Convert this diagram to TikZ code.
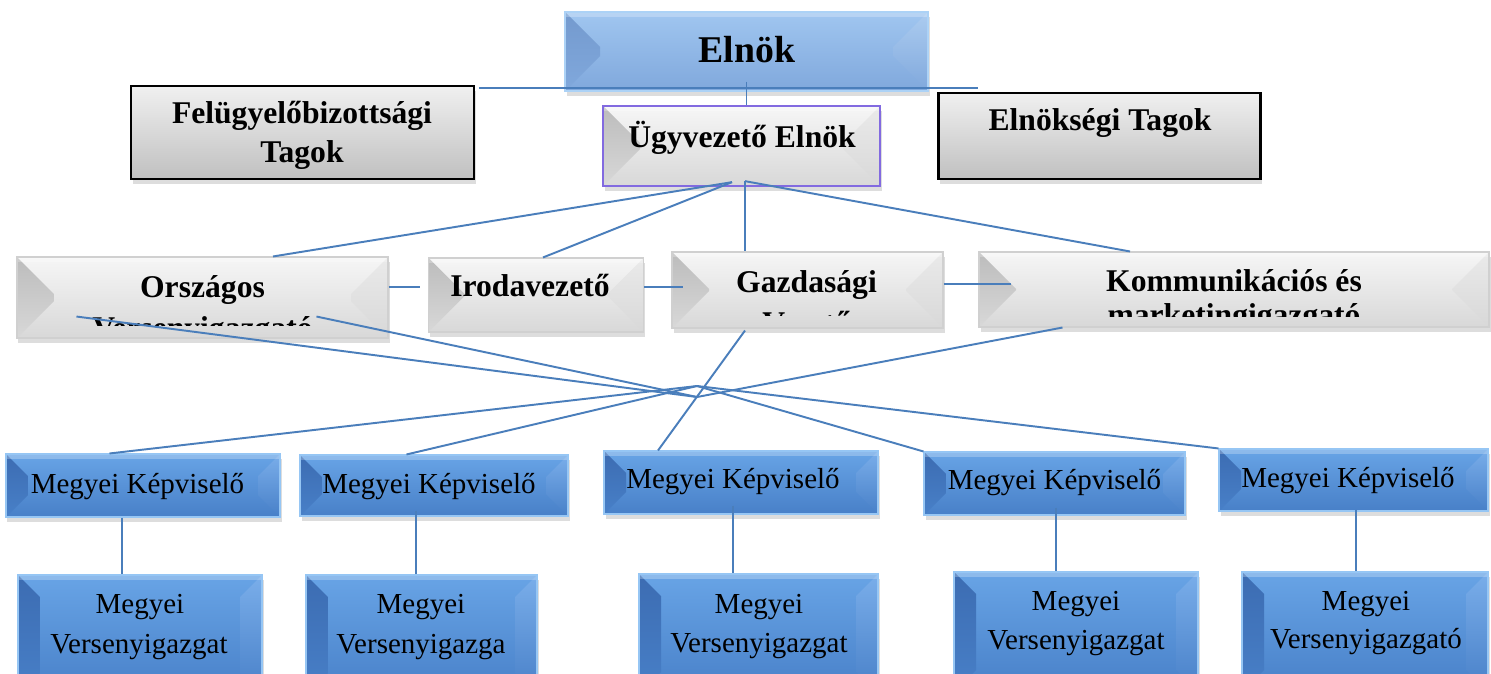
\documentclass[tikz,border=0pt]{standalone}
\usepackage{fontspec}
\setmainfont{Liberation Serif}
\usepackage{tikz}
\usetikzlibrary{calc,shadows}
\definecolor{linkblue}{RGB}{74,126,187}
\definecolor{kbtop}{RGB}{104,164,230}
\definecolor{kbbot}{RGB}{72,128,200}
\definecolor{kbleft}{RGB}{60,108,178}
\definecolor{kbright}{RGB}{122,174,234}
\definecolor{kbedge}{RGB}{150,198,244}
\definecolor{eltop}{RGB}{160,198,240}
\definecolor{elbot}{RGB}{128,168,220}
\definecolor{elleft}{RGB}{116,154,206}
\definecolor{elright}{RGB}{172,204,240}
\definecolor{eledge}{RGB}{172,210,246}
\definecolor{gytop}{RGB}{246,246,246}
\definecolor{gybot}{RGB}{216,216,216}
\definecolor{gyleft}{RGB}{188,188,188}
\definecolor{gyright}{RGB}{234,234,234}
\definecolor{gyedge}{RGB}{208,208,208}
\definecolor{hdtop}{RGB}{240,240,240}
\definecolor{hdbot}{RGB}{192,192,192}
\definecolor{ugyedge}{RGB}{130,106,224}

\tikzset{
  link/.style={draw=linkblue, line width=1.1pt},
  boxsize/.style 2 args={minimum width=#1*0.02cm, minimum height=#2*0.02cm},
  softshadow/.style={drop shadow={shadow xshift=0.03cm, shadow yshift=-0.09cm, opacity=0.22, fill=black!60}},
  bevelbox/.style n args={5}{rectangle, inner sep=0pt, top color=#1, bottom color=#2, softshadow,
    path picture={
      \shade[top color=#3, bottom color=#2] (path picture bounding box.north west)
        -- ([xshift=#5, yshift=-#5]path picture bounding box.north west)
        -- ([xshift=#5, yshift=#5]path picture bounding box.south west)
        -- (path picture bounding box.south west) -- cycle;
      \shade[top color=#4, bottom color=#2] (path picture bounding box.north east)
        -- ([xshift=-#5, yshift=-#5]path picture bounding box.north east)
        -- ([xshift=-#5, yshift=#5]path picture bounding box.south east)
        -- (path picture bounding box.south east) -- cycle;
      \fill[white, fill opacity=0.25] (path picture bounding box.north west) rectangle ([yshift=-0.1cm]path picture bounding box.north east);
    }},
  bluebox/.style={bevelbox={kbtop}{kbbot}{kbleft}{kbright}{0.44cm}, draw=kbedge, line width=0.6pt},
  elbox/.style={bevelbox={eltop}{elbot}{elleft}{elright}{0.7cm}, draw=eledge, line width=0.6pt},
  graybox/.style={bevelbox={gytop}{gybot}{gyleft}{gyright}{0.74cm}, draw=gyedge, line width=0.6pt},
  ugybox/.style={graybox, draw=ugyedge, line width=1.3pt},
  headbox/.style={rectangle, inner sep=0pt, top color=hdtop, bottom color=hdbot, draw=black, line width=1.3pt, softshadow},
  eltext/.style={font=\fontsize{21.5}{26}\selectfont\bfseries, anchor=base, inner sep=0pt},
  hdtext/.style={font=\fontsize{18}{22}\selectfont\bfseries, anchor=base, inner sep=0pt},
  kptext/.style={font=\fontsize{16.5}{20}\selectfont, anchor=base, inner sep=0pt}
}

\begin{document}
\begin{tikzpicture}[x=0.02cm, y=-0.02cm]
  \fill[white] (0,0) rectangle (1491,673);
  \clip (0,0) rectangle (1491,673);

  % top level
  \node[elbox, boxsize={363}{79}] (elnok) at (746.5,51.5) {};
  \node[headbox, boxsize={343}{93}] (felugy) at (302.5,132.5) {};
  \node[ugybox, boxsize={277}{80}] (ugyv) at (741.5,146) {};
  \node[headbox, boxsize={322}{86}] (elnoks) at (1099.5,136) {};

  % second row
  \node[graybox, boxsize={371}{81}] (ors) at (202.5,297.5) {};
  \node[graybox, boxsize={215}{74}] (iroda) at (536,295) {};
  \node[graybox, boxsize={271}{76}] (gazd) at (807.5,290) {};
  \node[graybox, boxsize={510}{75}] (komm) at (1234,289.5) {};

  % county representatives
  \node[bluebox, boxsize={274}{63}] (m1) at (143,485.5) {};
  \node[bluebox, boxsize={268}{61}] (m2) at (434,485.5) {};
  \node[bluebox, boxsize={274}{63}] (m3) at (741,482.5) {};
  \node[bluebox, boxsize={261}{63}] (m4) at (1054.5,483.5) {};
  \node[bluebox, boxsize={269}{62}] (m5) at (1353.5,480) {};

  % county directors
  \node[bluebox, boxsize={244}{120}] (v1) at (140,635) {};
  \node[bluebox, boxsize={231}{120}] (v2) at (421.5,635) {};
  \node[bluebox, boxsize={239}{120}] (v3) at (758.5,634) {};
  \node[bluebox, boxsize={244}{120}] (v4) at (1076,632) {};
  \node[bluebox, boxsize={246}{120}] (v5) at (1365,632) {};

  % labels
  \node[eltext] (elnok-t) at (747,62) {Elnök};
  \node[hdtext] (felugy-t1) at (302,123) {Felügyelőbizottsági};
  \node[hdtext] (felugy-t2) at (302,162) {Tagok};
  \node[hdtext] (ugyv-t) at (742,147) {Ügyvezető Elnök};
  \node[hdtext] (elnoks-t) at (1100,130) {Elnökségi Tagok};
  \node[hdtext] (iroda-t) at (530,296) {Irodavezető};
  \begin{scope}
    \clip (ors.north west) rectangle ($(ors.south east)+(0,-13)$);
    \node[hdtext] (ors-t1) at (202.5,297) {Országos};
    \node[hdtext] (ors-t2) at (202.5,338) {Versenyigazgató};
  \end{scope}
  \begin{scope}
    \clip (gazd.north west) rectangle ($(gazd.south east)+(0,-13)$);
    \node[hdtext] (gazd-t1) at (806.5,292) {Gazdasági};
    \node[hdtext] (gazd-t2) at (806.5,333) {Vezető};
  \end{scope}
  \begin{scope}
    \clip (komm.north west) rectangle ($(komm.south east)+(0,-11)$);
    \node[hdtext] (komm-t1) at (1234,291) {Kommunikációs és};
    \node[hdtext] (komm-t2) at (1234,325) {marketingigazgató};
  \end{scope}
  \node[kptext] (m1-t) at (137.5,493) {Megyei Képviselő};
  \node[kptext] (m2-t) at (429,493) {Megyei Képviselő};
  \node[kptext] (m3-t) at (733,488) {Megyei Képviselő};
  \node[kptext] (m4-t) at (1054.5,489) {Megyei Képviselő};
  \node[kptext] (m5-t) at (1348,487) {Megyei Képviselő};
  \node[kptext] (v1-t1) at (140,613) {Megyei};
  \node[kptext] (v1-t2) at (139,653) {Versenyigazgat};
  \node[kptext] (v2-t1) at (421,613) {Megyei};
  \node[kptext] (v2-t2) at (421,653) {Versenyigazga};
  \node[kptext] (v3-t1) at (759,613) {Megyei};
  \node[kptext] (v3-t2) at (759,652) {Versenyigazgat};
  \node[kptext] (v4-t1) at (1076,610) {Megyei};
  \node[kptext] (v4-t2) at (1076,649) {Versenyigazgat};
  \node[kptext] (v5-t1) at (1366,610) {Megyei};
  \node[kptext] (v5-t2) at (1366,648) {Versenyigazgató};

  % connectors
  \coordinate (hl) at ($(felugy.north east)+(4,3)$);
  \coordinate (hr) at ($(elnoks.north west)+(41,-4)$);
  \draw[link] (hl) -- (hr);
  \draw[link] ($(elnok.south)+(0,-10)$) -- (elnok.south |- ugyv.north);
  \coordinate (hubl) at ($(ugyv.south)+(-9.5,-5)$);
  \coordinate (hubr) at ($(ugyv.south)+(3.5,-6)$);
  \draw[link] (hubl) -- ($(ors.north)+(70.5,0)$);
  \draw[link] (hubl) -- ($(iroda.north)+(7,0)$);
  \draw[link] (hubr) -- (hubr |- gazd.north);
  \draw[link] (hubr) -- ($(komm.north)+(-104,0)$);
  \draw[link] ($(ors.east)+(0,-10.5)$) -- ($(iroda.west)+(-8,-8)$);
  \draw[link] ($(iroda.east)+(0,-8)$) -- ($(gazd.west)+(12,-3)$);
  \draw[link] ($(gazd.east)+(0,-6)$) -- ($(komm.west)+(33,-5.5)$);

  % crossing links
  \coordinate (ja) at (697,386);
  \coordinate (jb) at (697,397);
  \draw[link] ($(ors.south west)+(60,-22)$) -- (jb) -- ($(komm.south west)+(84,0)$);
  \draw[link] ($(ors.south west)+(300,-22)$) -- (jb);
  \draw[link] ($(m1.north west)+(104,0)$) -- (ja) -- (m5.north west);
  \draw[link] ($(m2.north west)+(107,0)$) -- (ja) -- (m4.north west);
  \draw[link] ($(gazd.south)+(-62.5,2)$) -- ($(m3.north)+(-83,0)$);

  % representative to director
  \coordinate (m1b) at ($(m1.south)+(-21,0)$);
  \coordinate (m2b) at ($(m2.south)+(-18,-6)$);
  \coordinate (m3b) at ($(m3.south)+(-8,-9)$);
  \coordinate (m4b) at ($(m4.south)+(1.5,-8)$);
  \coordinate (m5b) at ($(m5.south)+(2.5,-2)$);
  \draw[link] (m1b) -- (m1b |- v1.north);
  \draw[link] (m2b) -- (m2b |- v2.north);
  \draw[link] (m3b) -- (m3b |- v3.north);
  \draw[link] (m4b) -- (m4b |- v4.north);
  \draw[link] (m5b) -- (m5b |- v5.north);
\end{tikzpicture}
\end{document}
